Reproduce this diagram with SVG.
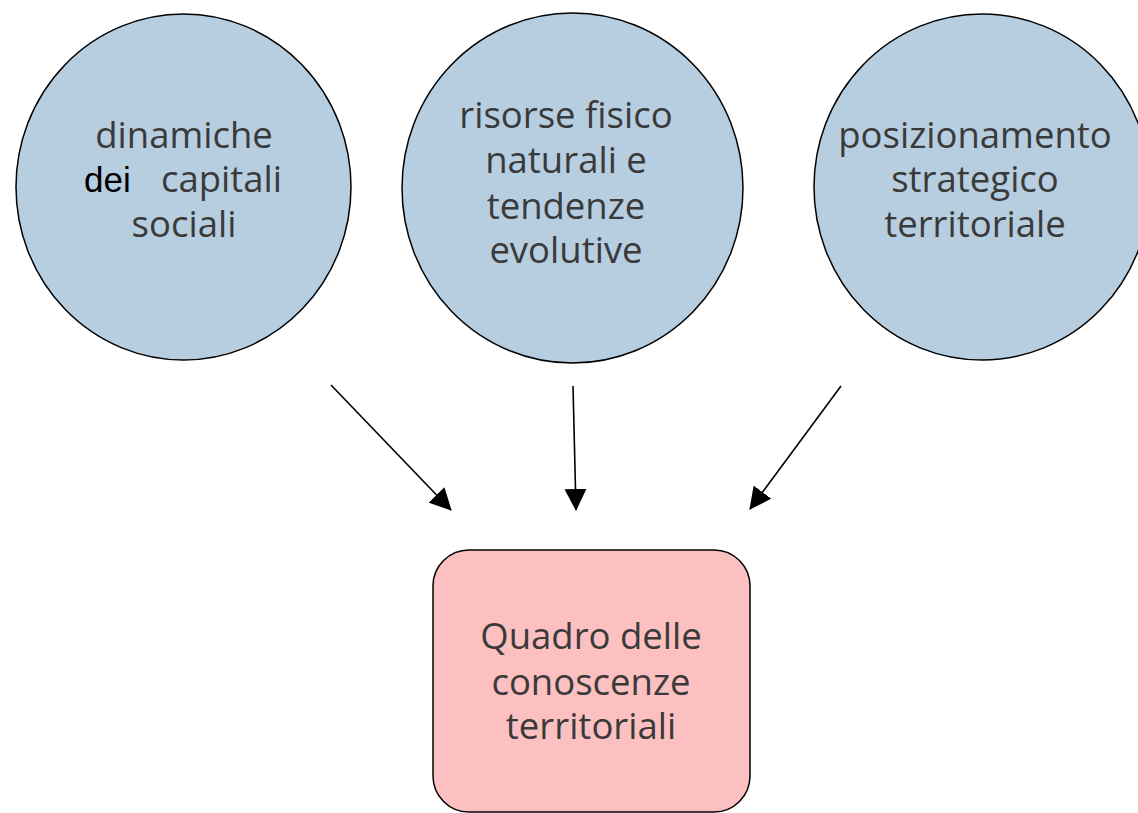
<svg xmlns="http://www.w3.org/2000/svg" width="1138" height="813" viewBox="0 0 1138 813">
<style>
.node{fill:#b7cee0;stroke:#000;stroke-width:1.5}
.box{fill:#fdc0c1;stroke:#000;stroke-width:1.5}
.lbl{font-family:"Open Sans","Liberation Sans",sans-serif;font-size:36.5px;fill:#3a3a3a;text-anchor:middle}
.st{text-anchor:start}
.dei{font-family:"Liberation Sans",sans-serif;font-size:35px;fill:#000}
.conn{stroke:#000;stroke-width:1.6;fill:none;marker-end:url(#ah)}
</style>
<defs>
<marker id="ah" markerUnits="userSpaceOnUse" markerWidth="22" markerHeight="22" refX="21" refY="11" orient="auto" viewBox="0 0 22 22">
<path d="M0,0 L22,11 L0,22 z" fill="#000"/>
</marker>
</defs>
<rect width="1138" height="813" fill="#fff"/>
<g id="n1">
<ellipse class="node" cx="183.5" cy="187" rx="167.5" ry="173"/>
<text class="lbl" x="184" y="148">dinamiche</text>
<text class="lbl st" y="192"><tspan class="dei" x="84">dei</tspan><tspan x="161">capitali</tspan></text>
<text class="lbl" x="184" y="237">sociali</text>
</g>
<g id="n2">
<ellipse class="node" cx="572.5" cy="188" rx="170.5" ry="175"/>
<text class="lbl" x="566" y="128">risorse fisico</text>
<text class="lbl" x="566" y="173">naturali e</text>
<text class="lbl" x="566" y="219">tendenze</text>
<text class="lbl" x="566" y="263">evolutive</text>
</g>
<g id="n3">
<ellipse class="node" cx="982" cy="187" rx="168" ry="173"/>
<text class="lbl" x="975" y="148">posizionamento</text>
<text class="lbl" x="975" y="192">strategico</text>
<text class="lbl" x="975" y="237">territoriale</text>
</g>
<g id="n4">
<rect class="box" x="433" y="550" width="317" height="262" rx="36"/>
<text class="lbl" x="591" y="649">Quadro delle</text>
<text class="lbl" x="591" y="695">conoscenze</text>
<text class="lbl" x="591" y="739">territoriali</text>
</g>
<g id="connectors">
<line class="conn" x1="331" y1="385" x2="451" y2="510"/>
<line class="conn" x1="573" y1="386" x2="576" y2="510"/>
<line class="conn" x1="841" y1="386" x2="750" y2="509"/>
</g>
</svg>
